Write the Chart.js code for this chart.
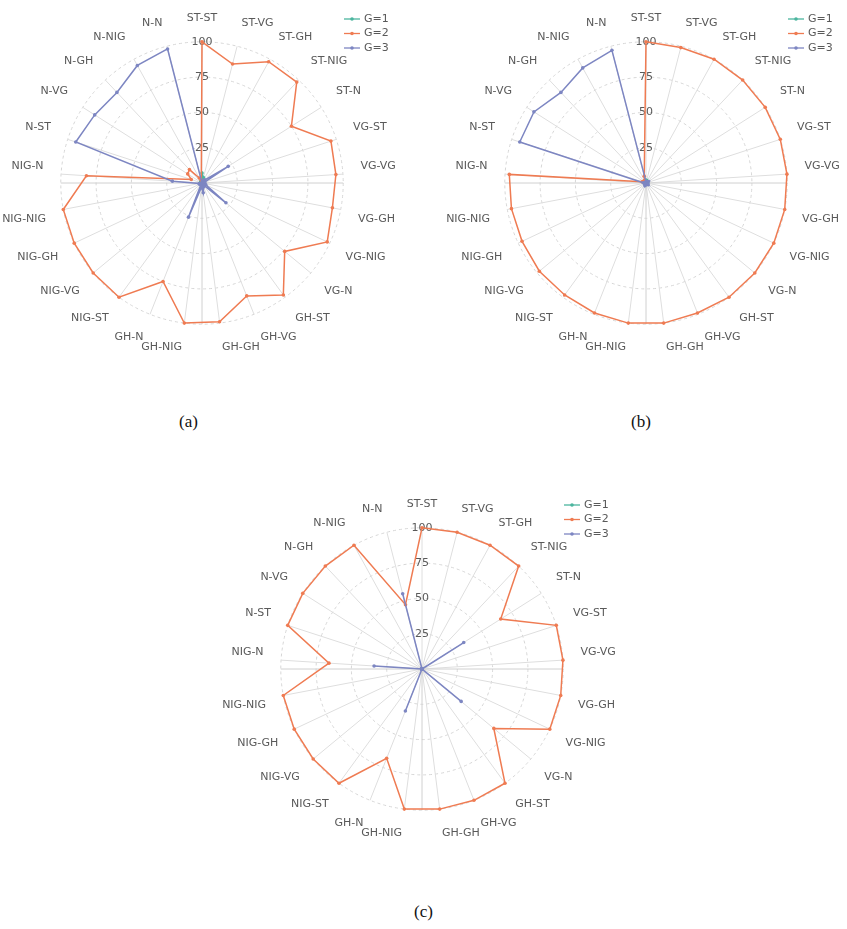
<!DOCTYPE html>
<html lang="en">
<head>
<meta charset="UTF-8">
<title>Radar G</title>
<style>
  body { margin: 0; background: #fff; }
  #page { position: relative; width: 847px; height: 929px; overflow: hidden; }
  .box { position: absolute; }
  .cap { position: absolute; font-family: "Liberation Serif", serif; font-size: 17px; color: #111; }
</style>
</head>
<body>
<div id="page">
  <div class="box" style="left:-1px;top:-7px"><canvas id="chartA" width="400" height="380"></canvas></div>
  <div class="box" style="left:443px;top:-7px"><canvas id="chartB" width="400" height="380"></canvas></div>
  <div class="box" style="left:219px;top:479px"><canvas id="chartC" width="400" height="380"></canvas></div>
  <div class="cap" style="left:179px;top:412px">(a)</div>
  <div class="cap" style="left:631px;top:412px">(b)</div>
  <div class="cap" style="left:414px;top:902px">(c)</div>
</div>
<script src="https://cdn.jsdelivr.net/npm/chart.js"></script>
<script>
// categories, clockwise from the top
const labels = ['ST-ST','ST-VG','ST-GH','ST-NIG','ST-N','VG-ST','VG-VG','VG-GH','VG-NIG','VG-N',
                'GH-ST','GH-VG','GH-GH','GH-NIG','GH-N','NIG-ST','NIG-VG','NIG-GH','NIG-NIG','NIG-N',
                'N-ST','N-VG','N-GH','N-NIG','N-N'];

// (a)
const g1A = [7,4,2,1,1,1,1,1,1,1,1,1,2,1,1,1,1,1,1,1,1,1,1,1,2];
const g2A = [100,87,98,98,75,96,95,94,98,76,98,86,99,100,75,100,100,100,100,82,8,12,13,4,2];
const g3A = [0,1,2,3,22,2,1,2,3,22,2,3,7,3,26,1,1,2,2,21,94,90,88,95,98];
// (b)
const g1B = [2,2,1,1,1,1,1,1,1,1,1,1,1,1,1,1,1,1,1,1,1,1,1,1,2];
const g2B = [100,99,100,100,100,100,100,100,100,100,100,99,100,100,99,98,98,97,97,97,3,2,2,2,5];
const g3B = [1,1,1,1,2,1,1,1,1,2,1,1,1,1,2,1,1,1,1,2,94,94,88,93,97];
// (c)
const g1C = [0,0,0,0,0,0,0,0,0,0,0,0,0,0,0,0,0,0,0,0,0,0,0,0,0];
const g2C = [100,100,100,100,66,100,100,100,100,66,100,100,100,100,68,100,100,100,100,66,100,100,100,100,47];
const g3C = [0,0,0,0,35,0,0,0,0,36,0,0,0,0,32,0,0,0,0,34,0,0,0,0,55];

const seriesNames = ['G=1', 'G=2', 'G=3'];
const colors = ['#4bb59e', '#ef7b52', '#7d86c2'];
const txt = '#595959';

// horizontal / vertical cross through the centre
const crossPlugin = {
    id: 'cross',
    beforeDatasetsDraw(chart) {
        const r = chart.scales.r;
        const ctx = chart.ctx;
        ctx.save();
        ctx.strokeStyle = '#d0d0d0';
        ctx.lineWidth = 1;
        ctx.beginPath();
        ctx.moveTo(r.xCenter - r.drawingArea, r.yCenter);
        ctx.lineTo(r.xCenter + r.drawingArea, r.yCenter);
        ctx.moveTo(r.xCenter, r.yCenter);
        ctx.lineTo(r.xCenter, r.yCenter + r.drawingArea);
        ctx.stroke();
        ctx.restore();
    }
};

// small legend in the upper right corner
const legendPlugin = {
    id: 'gLegend',
    afterDraw(chart) {
        const r = chart.scales.r;
        const ctx = chart.ctx;
        const x0 = r.xCenter + 142, y0 = r.yCenter - 164;
        ctx.save();
        ctx.font = '11px "DejaVu Sans"';
        ctx.textBaseline = 'middle';
        chart.data.datasets.forEach((ds, i) => {
            const y = y0 + i * 14.5;
            ctx.strokeStyle = ds.borderColor;
            ctx.lineWidth = 1.3;
            ctx.beginPath();
            ctx.moveTo(x0, y);
            ctx.lineTo(x0 + 16, y);
            ctx.stroke();
            ctx.fillStyle = ds.borderColor;
            ctx.beginPath();
            ctx.arc(x0 + 8, y, 1.8, 0, Math.PI * 2);
            ctx.fill();
            ctx.fillStyle = txt;
            ctx.fillText(ds.label, x0 + 20, y);
        });
        ctx.restore();
    }
};

function makeRadar(id, series) {
    const datasets = series.map((vals, i) => ({
        label: seriesNames[i],
        data: vals,
        borderColor: colors[i],
        backgroundColor: colors[i],
        pointBackgroundColor: colors[i],
        pointBorderColor: colors[i],
        pointRadius: 1.8,
        pointBorderWidth: 0,
        borderWidth: 1.5,
        fill: false,
        order: 2 - i
    }));
    return new Chart(document.getElementById(id), {
        type: 'radar',
        data: { labels: labels, datasets: datasets },
        options: {
            responsive: false,
            animation: false,
            plugins: { legend: { display: false }, tooltip: { enabled: false } },
            scales: {
                r: {
                    min: 0,
                    max: 100,
                    ticks: {
                        stepSize: 25,
                        color: txt,
                        font: { family: 'DejaVu Sans', size: 11 },
                        showLabelBackdrop: false
                    },
                    grid: { color: '#d6d6d6', circular: true },
                    border: { dash: [3, 3] },
                    angleLines: { color: '#dedede' },
                    pointLabels: {
                        color: txt,
                        font: { family: 'DejaVu Sans', size: 11 },
                        padding: 10
                    }
                }
            }
        },
        plugins: [crossPlugin, legendPlugin]
    });
}

makeRadar('chartA', [g1A, g2A, g3A]);
makeRadar('chartB', [g1B, g2B, g3B]);
makeRadar('chartC', [g1C, g2C, g3C]);
</script>
</body>
</html>
